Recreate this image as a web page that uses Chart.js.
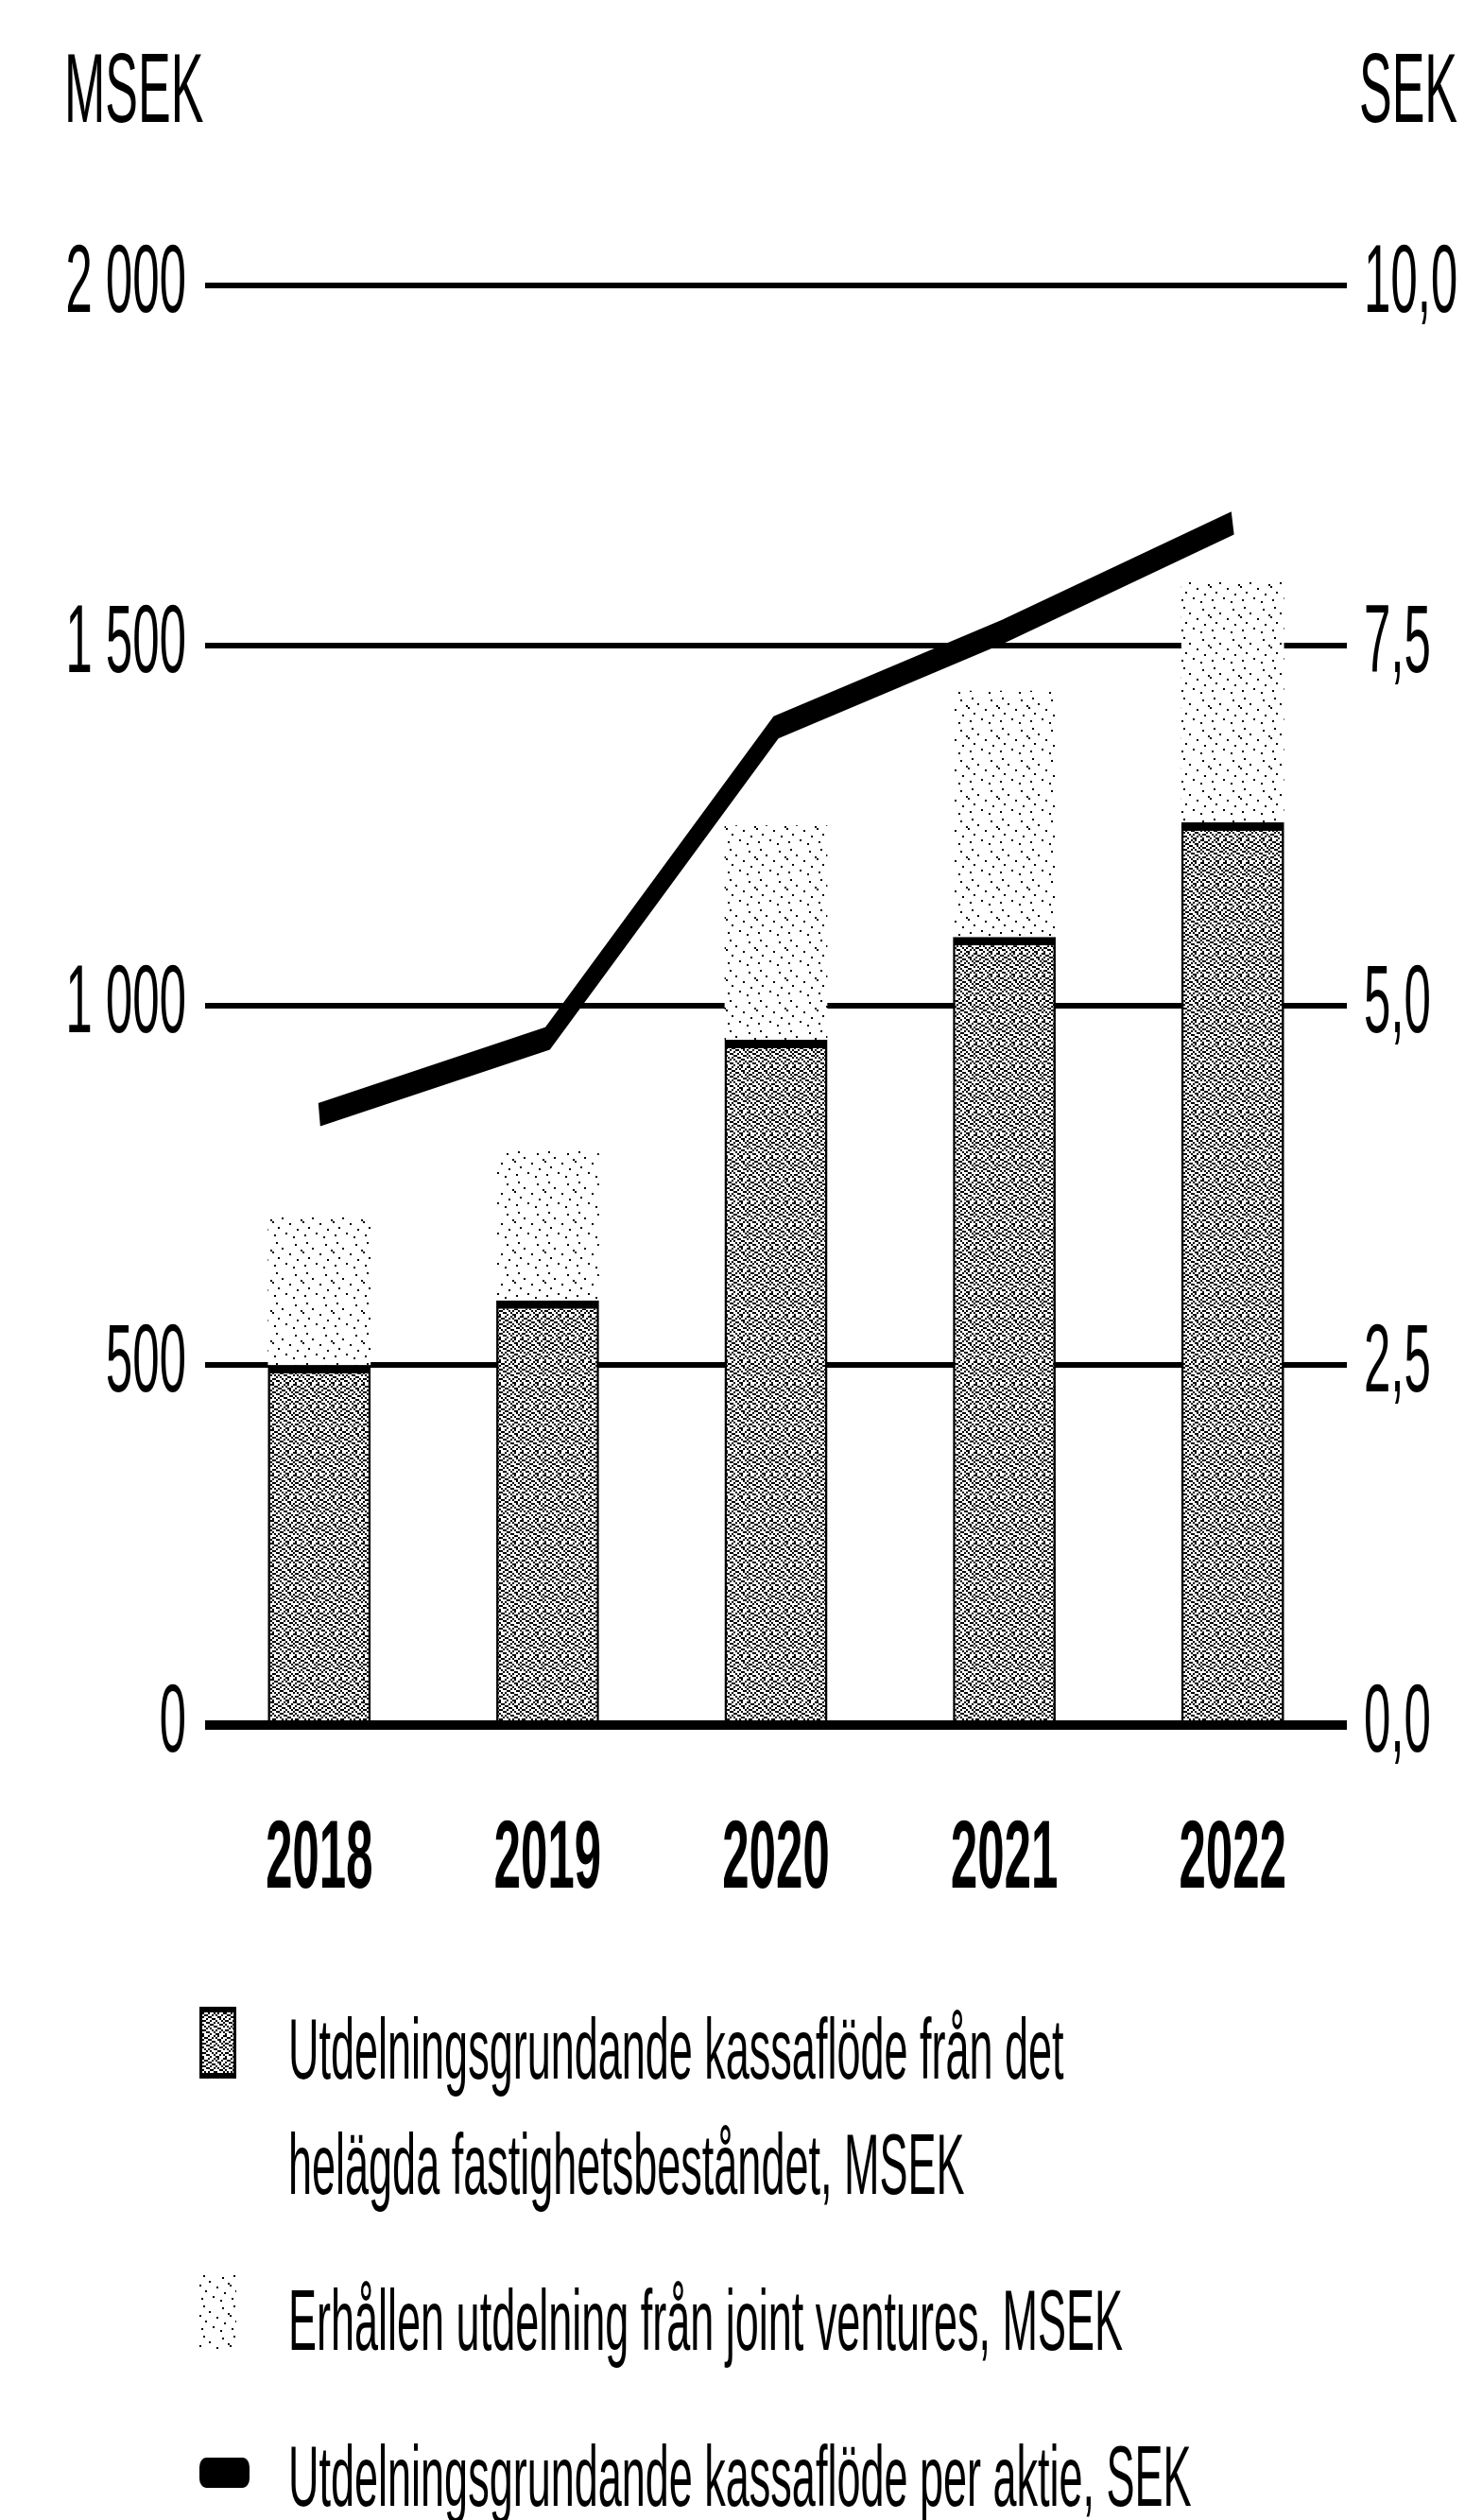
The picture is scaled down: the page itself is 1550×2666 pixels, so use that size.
<!DOCTYPE html>
<html>
<head>
<meta charset="utf-8">
<title>Utdelningsgrundande kassaflöde</title>
<script src="https://cdn.jsdelivr.net/npm/chart.js@4.4.0/dist/chart.umd.min.js"></script>
<style>
  html, body { margin: 0; padding: 0; background: #fff; overflow: hidden; }
  /* the print uses a tall condensed face, so the whole page is laid out
     twice as wide and squeezed back horizontally */
  #page {
    position: relative; width: 3100px; height: 2666px;
    transform: scaleX(0.5); transform-origin: 0 0;
    font-family: 'Liberation Sans', Arial, sans-serif; color: #000;
  }
  #chart { position: absolute; left: 0; top: 0; }
  .unit { position: absolute; top: 41px; font-size: 104px; line-height: 104px; white-space: nowrap; }
  #unitL { left: 136px; }
  #unitR { left: 2876px; }
  .item { position: absolute; left: 610px; font-size: 90px; line-height: 122px; white-space: nowrap; }
  .ico { position: absolute; left: 422px; }
  #ico1 { top: 2123px; width: 66px; height: 64px; border: 6px solid #000; }
  #ico2 { top: 2405px; width: 78px; height: 80px; }
  #ico3 { top: 2600px; width: 106px; height: 32px; background: #000; border-radius: 14px / 10px; }
</style>
</head>
<body>
<div id="page">
  <canvas id="chart" width="3100" height="2040"></canvas>
  <div class="unit" id="unitL">MSEK</div>
  <div class="unit" id="unitR">SEK</div>

  <div class="ico" id="ico1"></div>
  <div class="item" style="top:2107px">Utdelningsgrundande kassaflöde från det<br>helägda fastighetsbeståndet, MSEK</div>
  <div class="ico" id="ico2"></div>
  <div class="item" style="top:2394px">Erhållen utdelning från joint ventures, MSEK</div>
  <div class="ico" id="ico3"></div>
  <div class="item" style="top:2559px">Utdelningsgrundande kassaflöde per aktie, SEK</div>
</div>

<script>
'use strict';

// ─── Data ────────────────────────────────────────────────
const years = ['2018', '2019', '2020', '2021', '2022'];
const ownPortfolioCashflow = [500, 590, 952, 1095, 1254];   // MSEK
const jvDividends = [206, 208, 298, 342, 334];              // MSEK, stacked on top
const cashflowPerShare = [4.24, 4.77, 6.93, 7.6, 8.35];     // SEK, right axis
const msekTicks = [0, 500, 1000, 1500, 2000];
const sekTicks = [0, 2.5, 5, 7.5, 10];

// ─── Stipple textures (scanned-print look) ───────────────
const denseBits = [
  '100100101001', '011001010010', '100110001100', '001001100101',
  '110010010010', '001100101001', '100011000110', '010100110001',
  '001010001100', '110001010010', '001100100101', '100010011000',
];
const sparseBits = [
  '0000000000000000', '0010000000000000', '0000000000001000', '0000000000000000',
  '0000010000000000', '0000000000000001', '1000000000000000', '0000000001000000',
  '0000000000000000', '0001000000000000', '0000000000000100', '0000000000000000',
  '0000000100000000', '0100000000000000', '0000000000010000', '0000000000000000',
];

function makeTile(bits) {
  const cw = 4, ch = 2;
  const tile = document.createElement('canvas');
  tile.width = bits[0].length * cw;
  tile.height = bits.length * ch;
  const t = tile.getContext('2d');
  t.fillStyle = '#fff';
  t.fillRect(0, 0, tile.width, tile.height);
  t.fillStyle = '#000';
  bits.forEach((row, r) => {
    [...row].forEach((b, c) => { if (b === '1') t.fillRect(c * cw, r * ch, cw, ch); });
  });
  return tile;
}

const canvas = document.getElementById('chart');
const ctx = canvas.getContext('2d');
const denseTile = makeTile(denseBits);
const sparseTile = makeTile(sparseBits);
const densePattern = ctx.createPattern(denseTile, 'repeat');
const sparsePattern = ctx.createPattern(sparseTile, 'repeat');

document.getElementById('ico1').style.background = `url(${denseTile.toDataURL()})`;
document.getElementById('ico2').style.background = `url(${sparseTile.toDataURL()})`;

// ─── Chart ───────────────────────────────────────────────
const FONT = "'Liberation Sans', Arial, sans-serif";
const fmtMsek = v => String(v).replace(/\B(?=(\d{3})+(?!\d))/g, ' ');
const fmtSek = v => v.toFixed(1).replace('.', ',');

new Chart(ctx, {
  type: 'bar',
  data: {
    labels: years,
    datasets: [
      {
        type: 'line',
        label: 'Utdelningsgrundande kassaflöde per aktie, SEK',
        data: cashflowPerShare,
        yAxisID: 'y2',
        borderColor: '#000',
        borderWidth: 25,
        borderCapStyle: 'butt',
        borderJoinStyle: 'miter',
        pointRadius: 0,
        tension: 0,
        order: 0,
      },
      {
        label: 'Utdelningsgrundande kassaflöde från det helägda fastighetsbeståndet, MSEK',
        data: ownPortfolioCashflow,
        yAxisID: 'y',
        stack: 'msek',
        backgroundColor: densePattern,
        borderColor: '#000',
        borderWidth: { top: 9, left: 5, right: 5, bottom: 0 },
        borderSkipped: false,
        barPercentage: 0.45,
        categoryPercentage: 1,
        order: 1,
      },
      {
        label: 'Erhållen utdelning från joint ventures, MSEK',
        data: jvDividends,
        yAxisID: 'y',
        stack: 'msek',
        backgroundColor: sparsePattern,
        borderWidth: 0,
        barPercentage: 0.45,
        categoryPercentage: 1,
        order: 1,
      },
    ],
  },
  options: {
    responsive: false,
    animation: false,
    devicePixelRatio: 1,
    layout: { padding: { top: 302, left: 0, right: 0, bottom: 0 } },
    plugins: { legend: { display: false }, tooltip: { enabled: false } },
    scales: {
      x: {
        stacked: true,
        grid: { display: false },
        border: { display: false },
        ticks: { color: '#000', padding: 75, font: { family: FONT, size: 102, weight: 'bold' } },
        afterFit: s => { s.height = 215; },
      },
      y: {
        position: 'left',
        stacked: true,
        min: msekTicks[0],
        max: msekTicks[msekTicks.length - 1],
        afterBuildTicks: s => { s.ticks = msekTicks.map(value => ({ value })); },
        grid: {
          color: '#000',
          lineWidth: c => (c.tick && c.tick.value === 0 ? 10 : 6),
          drawTicks: false,
        },
        border: { display: false },
        ticks: { color: '#000', padding: 40, font: { family: FONT, size: 102 }, callback: fmtMsek },
        afterFit: s => { s.width = 434; },
      },
      y2: {
        position: 'right',
        min: sekTicks[0],
        max: sekTicks[sekTicks.length - 1],
        afterBuildTicks: s => { s.ticks = sekTicks.map(value => ({ value })); },
        grid: { display: false, drawTicks: false },
        border: { display: false },
        ticks: { color: '#000', padding: 36, font: { family: FONT, size: 102 }, callback: fmtSek },
        afterFit: s => { s.width = 250; },
      },
    },
  },
});
</script>
</body>
</html>
